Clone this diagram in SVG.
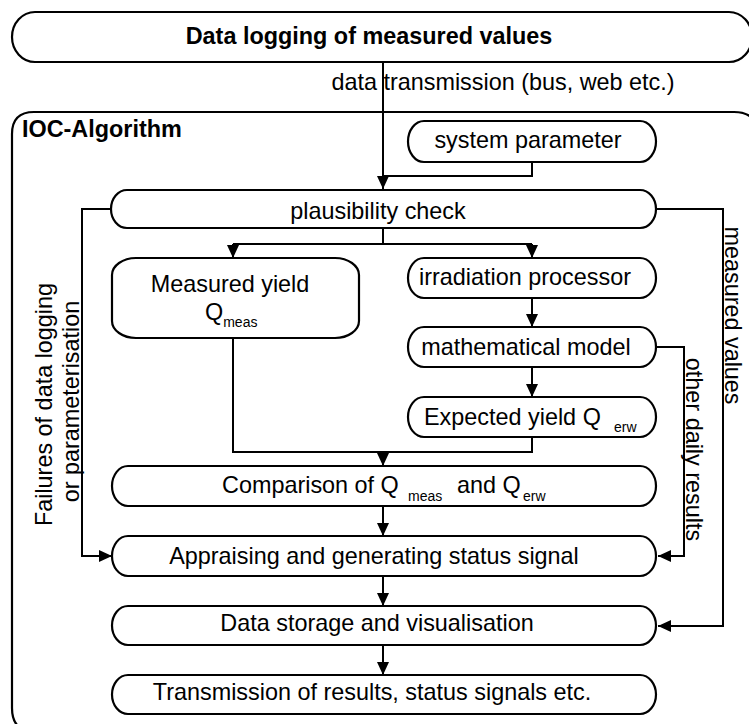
<svg xmlns="http://www.w3.org/2000/svg" width="749" height="724" viewBox="0 0 749 724">
<defs>
<style>
.box{fill:#fff;stroke:#000;stroke-width:2.2}
.ln{fill:none;stroke:#000;stroke-width:2}
.t{font-family:"Liberation Sans",Arial,sans-serif;font-size:23.4px;fill:#000}
.b{font-weight:bold}
.s{font-size:14px}
.m{text-anchor:middle}
</style>
<marker id="ah" markerWidth="13" markerHeight="12" refX="13" refY="6" orient="auto" markerUnits="userSpaceOnUse">
<path d="M0,0 L13,6 L0,12 Z" fill="#000"/>
</marker>
</defs>
<rect width="749" height="724" fill="#fff"/>

<g id="data-logging">
<path class="box" d="M35,12 H729 A23,25 0 0 1 729,62 H35 A23,25 0 0 1 35,12 Z"/>
<text class="t b m" x="369" y="44">Data logging of measured values</text>
</g>

<text class="t m" x="503" y="90">data transmission (bus, web etc.)</text>

<g id="ioc-algorithm">
<path class="box" fill="none" style="fill:none" d="M34,112 H734 Q758,112 758,136 V708 Q758,732 734,732 H36 Q12,732 12,708 V134 Q12,112 34,112 Z"/>
<text class="t b" x="22" y="137">IOC-Algorithm</text>
</g>

<g id="connectors">
<path class="ln" d="M383,62 V189" marker-end="url(#ah)"/>
<path class="ln" d="M532,162 V176 H383"/>
<path class="ln" d="M111,209 H82 V556 H112" marker-end="url(#ah)"/>
<path class="ln" d="M656,209 H723 V626 H658" marker-end="url(#ah)"/>
<path class="ln" d="M383,228 V244"/>
<path class="ln" d="M233,244 H532"/>
<path class="ln" d="M233,244 V258" marker-end="url(#ah)"/>
<path class="ln" d="M532,244 V258" marker-end="url(#ah)"/>
<path class="ln" d="M532,298 V327" marker-end="url(#ah)"/>
<path class="ln" d="M532,367 V397" marker-end="url(#ah)"/>
<path class="ln" d="M656,347 H684 V556 H658" marker-end="url(#ah)"/>
<path class="ln" d="M233,338 V452 H532 V437"/>
<path class="ln" d="M383,452 V466" marker-end="url(#ah)"/>
<path class="ln" d="M383,506 V536" marker-end="url(#ah)"/>
<path class="ln" d="M383,576 V606" marker-end="url(#ah)"/>
<path class="ln" d="M383,645 V675" marker-end="url(#ah)"/>
<text class="t m" transform="translate(52,404.5) rotate(-90)">Failures of data logging</text>
<text class="t m" transform="translate(79,401.5) rotate(-90)">or parameterisation</text>
<text class="t m" transform="translate(725,315.5) rotate(90)">measured values</text>
<text class="t m" transform="translate(686,449.5) rotate(90)">other daily results</text>
</g>

<g id="system-parameter">
<path class="box" d="M424,121 H640 A16,20.5 0 0 1 640,162 H424 A16,20.5 0 0 1 424,121 Z"/>
<text class="t m" x="528" y="148">system parameter</text>
</g>

<g id="plausibility-check">
<path class="box" d="M127,190 H640 A16,19 0 0 1 640,228 H127 A16,19 0 0 1 127,190 Z"/>
<text class="t m" x="378" y="219">plausibility check</text>
</g>

<g id="measured-yield">
<rect class="box" x="112" y="258" width="247" height="80" rx="24" ry="17"/>
<text class="t m" x="230" y="292">Measured yield</text>
<text class="t" x="205" y="320">Q<tspan class="s" dy="7">meas</tspan></text>
</g>

<g id="irradiation-processor">
<path class="box" d="M424,258 H640 A16,20 0 0 1 640,298 H424 A16,20 0 0 1 424,258 Z"/>
<text class="t m" x="525" y="285">irradiation processor</text>
</g>

<g id="mathematical-model">
<path class="box" d="M424,327 H640 A16,20 0 0 1 640,367 H424 A16,20 0 0 1 424,327 Z"/>
<text class="t m" x="526" y="355">mathematical model</text>
</g>

<g id="expected-yield">
<path class="box" d="M424,397 H640 A16,20 0 0 1 640,437 H424 A16,20 0 0 1 424,397 Z"/>
<text class="t" x="424" y="425">Expected yield Q</text>
<text class="t s" x="614" y="432">erw</text>
</g>

<g id="comparison">
<path class="box" d="M128,466 H640 A16,20 0 0 1 640,506 H128 A16,20 0 0 1 128,466 Z"/>
<text class="t" x="222" y="493">Comparison of Q</text>
<text class="t s" x="408" y="501">meas</text>
<text class="t" x="457" y="493">and Q</text>
<text class="t s" x="523" y="501">erw</text>
</g>

<g id="appraising">
<path class="box" d="M128,536 H640 A16,20 0 0 1 640,576 H128 A16,20 0 0 1 128,536 Z"/>
<text class="t m" x="374" y="564">Appraising and generating status signal</text>
</g>

<g id="data-storage">
<path class="box" d="M128,606 H640 A16,19.5 0 0 1 640,645 H128 A16,19.5 0 0 1 128,606 Z"/>
<text class="t m" x="377" y="631">Data storage and visualisation</text>
</g>

<g id="transmission">
<path class="box" d="M128,675 H640 A16,19.5 0 0 1 640,714 H128 A16,19.5 0 0 1 128,675 Z"/>
<text class="t m" x="372" y="700">Transmission of results, status signals etc.</text>
</g>
</svg>
